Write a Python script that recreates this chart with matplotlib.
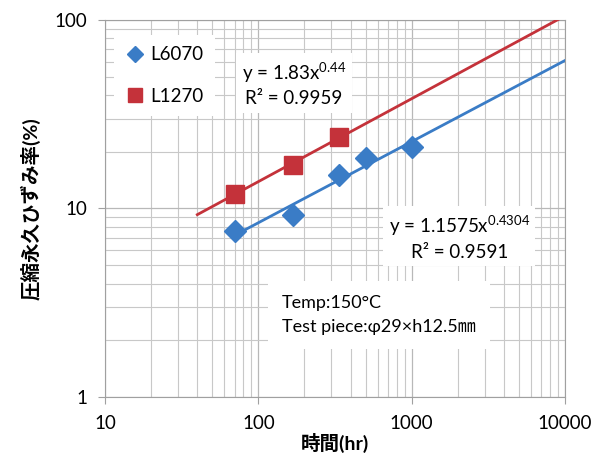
import numpy as np
import matplotlib.pyplot as plt
from matplotlib.ticker import FuncFormatter, NullFormatter

plt.rcParams['font.family'] = ['Lato', 'Noto Sans CJK JP', 'DejaVu Sans']
plt.rcParams['mathtext.fontset'] = 'custom'
plt.rcParams['mathtext.rm'] = 'Lato'
plt.rcParams['mathtext.it'] = 'Lato'

# データ
time_l6070 = [70, 168, 336, 504, 1008]
strain_l6070 = [7.6, 9.2, 15.1, 18.6, 21.3]
time_l1270 = [70, 168, 336]
strain_l1270 = [12.0, 17.0, 23.9]

# 近似曲線 (y = a * x^b) と描画範囲
fit_l6070 = (1.1575, 0.4304)
fit_l1270 = (1.83, 0.44)
range_l6070 = [70, 10000]
range_l1270 = [40, 10000]

blue = '#3a7cc6'
red = '#c4323a'

fig = plt.figure(figsize=(6.06, 4.73), dpi=100)
ax = fig.add_axes([105 / 606, 1 - 397 / 473, 460 / 606, 377 / 473])
ax.set_xscale('log')
ax.set_yscale('log')
ax.set_xlim(10, 10000)
ax.set_ylim(1, 100)

# グリッド
ax.grid(True, which='major', color='#b8b8b8', lw=0.9)
ax.grid(True, which='minor', color='#c8c8c8', lw=0.8)
ax.set_axisbelow(True)

# 近似線
for rng, (a, b), c in [(range_l6070, fit_l6070, blue), (range_l1270, fit_l1270, red)]:
    xs = np.array(rng, dtype=float)
    ax.plot(xs, a * xs ** b, color=c, lw=2.0, zorder=3)

ax.plot(time_l6070, strain_l6070, 'D', color=blue, ms=11, ls='none', label='L6070', zorder=4)
ax.plot(time_l1270, strain_l1270, 's', color=red, ms=12.5, ls='none', label='L1270', zorder=4)

fmt = FuncFormatter(lambda v, p: '%d' % v)
ax.xaxis.set_major_formatter(fmt)
ax.yaxis.set_major_formatter(fmt)
ax.xaxis.set_minor_formatter(NullFormatter())
ax.yaxis.set_minor_formatter(NullFormatter())
ax.tick_params(which='major', length=5, color='#a0a0a0', labelsize=13.5, pad=8)
ax.tick_params(which='minor', length=0)
for s in ax.spines.values():
    s.set_color('#a0a0a0')

ax.set_xlabel('時間(hr)', fontsize=14, fontweight='bold', labelpad=1)
ax.set_ylabel('圧縮永久ひずみ率(%)', fontsize=14, fontweight='bold', labelpad=10)

leg = ax.legend(loc='upper left', bbox_to_anchor=(0.0, 0.985), fontsize=13.5,
                frameon=True, fancybox=False, edgecolor='none', framealpha=1,
                handletextpad=0.3, labelspacing=1.3, borderpad=0.6, handlelength=1.0,
                markerscale=0.75)

box = dict(facecolor='white', edgecolor='none', pad=4)
ax.text(0.411, 0.83, 'y = 1.83x$^{0.44}$\nR² = 0.9959', transform=ax.transAxes,
        ha='center', va='center', fontsize=13.5, linespacing=1.4, bbox=box, zorder=5)
ax.text(0.77, 0.424, 'y = 1.1575x$^{0.4304}$\nR² = 0.9591', transform=ax.transAxes,
        ha='center', va='center', fontsize=13.5, linespacing=1.4, bbox=box, zorder=5)
ax.text(0.385, 0.218, 'Temp:150°C\nTest piece:φ29×h12.5㎜', transform=ax.transAxes,
        ha='left', va='center', fontsize=13, linespacing=1.6,
        bbox=dict(facecolor='white', edgecolor='none', pad=10), zorder=5)

fig.savefig('out.png', dpi=100)
